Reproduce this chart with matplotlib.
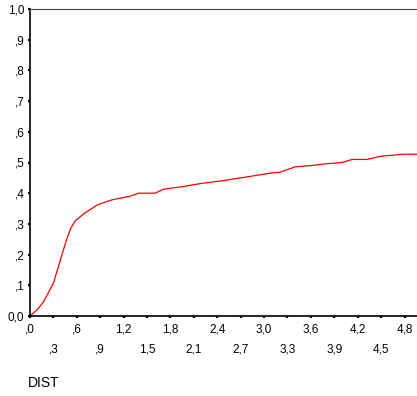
import matplotlib
matplotlib.use("Agg")
import matplotlib.pyplot as plt
import numpy as np

plt.rcParams['font.family'] = ['Liberation Sans', 'DejaVu Sans']

# cumulative curve
dist = [0, 0.09, 0.17, 0.30, 0.41, 0.47, 0.52, 0.58, 0.70, 0.87, 1.06, 1.28,
        1.39, 1.60, 1.71, 1.92, 2.20, 2.45, 2.70, 2.95, 3.10, 3.20, 3.40, 3.60,
        3.76, 4.00, 4.13, 4.32, 4.49, 4.78, 4.96]
cum = [0, 0.02, 0.045, 0.107, 0.20, 0.25, 0.285, 0.31, 0.335, 0.363, 0.379, 0.39,
       0.40, 0.40, 0.413, 0.42, 0.432, 0.44, 0.45, 0.46, 0.466, 0.468, 0.486, 0.49,
       0.495, 0.50, 0.51, 0.51, 0.52, 0.527, 0.527]

x_major = [0, 0.6, 1.2, 1.8, 2.4, 3.0, 3.6, 4.2, 4.8]
x_major_lbl = [',0', ',6', '1,2', '1,8', '2,4', '3,0', '3,6', '4,2', '4,8']
x_minor = [0.3, 0.9, 1.5, 2.1, 2.7, 3.3, 3.9, 4.5]
x_minor_lbl = [',3', ',9', '1,5', '2,1', '2,7', '3,3', '3,9', '4,5']
y_ticks = [0, 0.1, 0.2, 0.3, 0.4, 0.5, 0.6, 0.7, 0.8, 0.9, 1.0]
y_lbl = ['0,0', ',1', ',2', ',3', ',4', ',5', ',6', ',7', ',8', ',9', '1,0']

fig = plt.figure(figsize=(4.17, 3.96), dpi=100)
ax = fig.add_axes([30/417, 80/396, 387/417, 307/396])

ax.plot(dist, cum, color='red', lw=0.9)
ax.set_xlim(0, 4.96)
ax.set_ylim(0, 1.0)

ax.set_xticks(x_major)
ax.set_xticklabels(x_major_lbl)
ax.set_xticks(x_minor, minor=True)
ax.set_xticklabels(x_minor_lbl, minor=True)
ax.set_yticks(y_ticks)
ax.set_yticklabels(y_lbl)

ax.tick_params(axis='both', which='both', direction='out', length=1.5, width=1.6,
               labelsize=8.5, color='black')
ax.tick_params(axis='x', which='major', pad=4)
ax.tick_params(axis='x', which='minor', pad=18.5)
ax.tick_params(axis='y', pad=2.5)

ax.spines['left'].set_linewidth(1.2)
ax.spines['bottom'].set_linewidth(1.2)
ax.spines['top'].set_linewidth(0.8)
ax.spines['top'].set_color('#444444')
ax.spines['right'].set_visible(False)

fig.text(28/417, 1 - 383/396, 'DIST', fontsize=10, ha='left', va='center')

fig.savefig('out.png', dpi=100)
